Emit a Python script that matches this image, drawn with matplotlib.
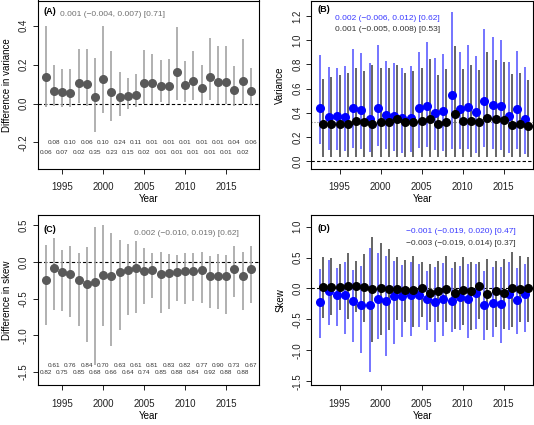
import numpy as np
import matplotlib
matplotlib.use('Agg')
import matplotlib.pyplot as plt

plt.rcParams['font.family'] = ['Liberation Sans', 'DejaVu Sans']

years = list(range(1993, 2019))

# (A) difference in variance
dvar = [0.137, 0.065, 0.060, 0.056, 0.108, 0.100, 0.036, 0.126, 0.060, 0.034, 0.038, 0.044, 0.108,
        0.106, 0.089, 0.092, 0.162, 0.094, 0.115, 0.082, 0.137, 0.113, 0.113, 0.068, 0.116, 0.065]
dvar_lo = [-0.020, -0.015, -0.017, -0.020, 0.003, -0.015, -0.145, -0.050, -0.090, -0.063, -0.030, -0.020, 0.000,
           0.000, 0.008, 0.000, 0.017, 0.008, 0.017, -0.008, 0.017, 0.000, 0.000, -0.014, 0.000, -0.008]
dvar_hi = [0.398, 0.200, 0.178, 0.178, 0.282, 0.282, 0.236, 0.400, 0.270, 0.160, 0.133, 0.150, 0.277,
           0.256, 0.222, 0.229, 0.393, 0.220, 0.270, 0.197, 0.337, 0.294, 0.296, 0.195, 0.332, 0.181]
pvar_top = ['0.08', '0.10', '0.06', '0.10', '0.24', '0.11', '0.01', '0.01', '0.01', '0.01', '0.01', '0.04', '0.06']
pvar_bot = ['0.06', '0.07', '0.02', '0.35', '0.23', '0.15', '0.02', '0.01', '0.01', '0.01', '0.01', '0.01', '0.02']
head_a = '0.001 (\u22120.004, 0.007) [0.71]'

# (B) variance, blue and black series
var_blue = [0.440, 0.366, 0.372, 0.366, 0.435, 0.420, 0.352, 0.440, 0.385, 0.374, 0.358, 0.360, 0.435,
            0.457, 0.394, 0.413, 0.550, 0.427, 0.449, 0.407, 0.495, 0.460, 0.454, 0.372, 0.430, 0.347]
var_blue_lo = [0.140, 0.090, 0.090, 0.085, 0.110, 0.100, 0.077, 0.127, 0.100, 0.080, 0.070, 0.077, 0.105,
               0.118, 0.090, 0.085, 0.100, 0.096, 0.100, 0.070, 0.118, 0.100, 0.090, 0.063, 0.096, 0.058]
var_blue_hi = [0.875, 0.779, 0.773, 0.784, 0.925, 0.897, 0.810, 0.963, 0.828, 0.810, 0.773, 0.790, 0.900,
               0.985, 0.856, 0.889, 1.233, 0.900, 0.958, 0.867, 1.095, 1.027, 1.004, 0.820, 0.911, 0.779]
var_black = [0.305, 0.305, 0.310, 0.310, 0.333, 0.320, 0.310, 0.320, 0.327, 0.344, 0.320, 0.320, 0.333,
             0.352, 0.305, 0.325, 0.388, 0.333, 0.333, 0.325, 0.358, 0.347, 0.338, 0.297, 0.310, 0.289]
var_black_lo = [0.036] * 26
var_black_hi = [0.683, 0.696, 0.710, 0.730, 0.770, 0.746, 0.793, 0.770, 0.773, 0.798, 0.730, 0.743, 0.773,
                0.848, 0.710, 0.765, 0.952, 0.765, 0.793, 0.757, 0.900, 0.839, 0.820, 0.718, 0.730, 0.669]
var_ref = 0.325
head_b_blue = '0.002 (\u22120.006, 0.012) [0.62]'
head_b_black = '0.001 (\u22120.005, 0.008) [0.53]'

# (C) difference in skew
dskew = [-0.241, -0.077, -0.136, -0.159, -0.241, -0.305, -0.273, -0.173, -0.191, -0.141, -0.114, -0.082, -0.123,
         -0.114, -0.168, -0.145, -0.136, -0.123, -0.127, -0.114, -0.191, -0.191, -0.191, -0.091, -0.191, -0.100]
dskew_lo = [-0.864, -0.659, -0.668, -0.750, -0.877, -1.090, -1.400, -0.877, -1.150, -0.923, -0.727, -0.691, -0.568,
            -0.491, -0.691, -0.636, -0.536, -0.568, -0.536, -0.555, -0.623, -0.645, -0.705, -0.477, -0.659, -0.555]
dskew_hi = [0.227, 0.327, 0.168, 0.214, 0.127, 0.205, 0.477, 0.509, 0.395, 0.295, 0.250, 0.282, 0.195,
            0.127, 0.136, 0.114, 0.100, 0.127, 0.127, 0.136, 0.082, 0.114, 0.100, 0.218, 0.136, 0.214]
pskew_top = ['0.61', '0.76', '0.84', '0.70', '0.63', '0.61', '0.81', '0.83', '0.82', '0.77', '0.90', '0.73', '0.67']
pskew_bot = ['0.82', '0.75', '0.85', '0.68', '0.66', '0.64', '0.74', '0.85', '0.88', '0.84', '0.92', '0.88', '0.88']
head_c = '0.002 (\u22120.010, 0.019) [0.62]'

# (D) skew, blue and black series
skew_blue = [-0.220, -0.048, -0.113, -0.113, -0.210, -0.274, -0.274, -0.167, -0.204, -0.129, -0.129, -0.113, -0.102,
             -0.177, -0.220, -0.167, -0.204, -0.140, -0.177, -0.075, -0.274, -0.231, -0.258, -0.086, -0.194, -0.097]
skew_blue_lo = [-0.800, -0.597, -0.613, -0.742, -0.866, -1.038, -1.350, -0.812, -1.097, -0.892, -0.785, -0.769, -0.624,
                -0.677, -0.866, -0.774, -0.704, -0.677, -0.800, -0.661, -0.839, -0.785, -0.882, -0.677, -0.731, -0.704]
skew_blue_hi = [0.317, 0.468, 0.328, 0.435, 0.306, 0.371, 0.656, 0.570, 0.532, 0.440, 0.387, 0.425, 0.398,
                0.290, 0.344, 0.414, 0.328, 0.360, 0.398, 0.398, 0.280, 0.344, 0.355, 0.425, 0.328, 0.398]
skew_black = [0.016, 0.032, 0.027, 0.043, 0.038, 0.027, -0.016, 0.000, -0.005, -0.005, -0.022, -0.032, 0.011,
              -0.070, -0.048, -0.016, -0.070, -0.022, -0.048, 0.038, -0.086, -0.048, -0.075, 0.005, -0.005, 0.005]
skew_black_lo = [-0.478, -0.425, -0.355, -0.489, -0.382, -0.543, -0.866, -0.758, -0.677, -0.516, -0.543, -0.624, -0.462,
                 -0.543, -0.543, -0.543, -0.650, -0.597, -0.677, -0.489, -0.677, -0.624, -0.650, -0.624, -0.543, -0.543]
skew_black_hi = [0.505, 0.495, 0.398, 0.570, 0.452, 0.559, 0.828, 0.737, 0.640, 0.505, 0.462, 0.521, 0.425,
                 0.398, 0.452, 0.532, 0.425, 0.505, 0.425, 0.425, 0.478, 0.452, 0.478, 0.586, 0.532, 0.516]
head_d_blue = '\u22120.001 (\u22120.019, 0.020) [0.47]'
head_d_black = '\u22120.003 (\u22120.019, 0.014) [0.37]'

W, H = 534, 425
fig = plt.figure(figsize=(W / 100, H / 100), dpi=100)


def make_ax(l, t, r, b):
    return fig.add_axes([l / W, 1 - b / H, (r - l) / W, (b - t) / H])


def style(ax, ylabel, yticks, ylim, xlim):
    ax.set_xlim(xlim)
    ax.set_ylim(ylim)
    ax.set_xticks([1995, 2000, 2005, 2010, 2015])
    ax.set_yticks(yticks)
    ax.set_yticklabels(['%.1f' % v for v in yticks], rotation=90, va='center')
    ax.tick_params(length=3.6, width=0.7, labelsize=7, colors='#222222')
    ax.tick_params(axis='x', pad=6)
    ax.tick_params(axis='y', pad=3)
    for s in ax.spines.values():
        s.set_linewidth(0.8)
    ax.set_xlabel('Year', fontsize=7, labelpad=1.5)
    ax.set_ylabel(ylabel, fontsize=7)
    ax.yaxis.set_label_coords(-0.14, 0.5)
    ax.yaxis.label.set_va('center')


GRAY_PT = '#595959'
GRAY_LN = '#a3a3a3'
BLUE_PT = '#0000ff'
BLUE_LN = '#5c5cff'
BLACK_LN = '#4a4a4a'

# ---------- (A)
ax = make_ax(37.7, 0.5, 259, 169)
ax.axhline(0, color='black', ls=(0, (3, 2)), lw=0.8, zorder=1)
ax.vlines(years, dvar_lo, dvar_hi, color=GRAY_LN, lw=1.2, zorder=2)
ax.plot(years, dvar, 'o', color=GRAY_PT, ms=5.5, zorder=3)
for i, t in enumerate(pvar_top):
    ax.text(years[1 + 2 * i], -0.2, t, fontsize=4.6, ha='center', va='center', color='#333333')
for i, t in enumerate(pvar_bot):
    ax.text(years[2 * i], -0.25, t, fontsize=4.6, ha='center', va='center', color='#333333')
ax.text(0.024, 0.934, '(A)', transform=ax.transAxes, fontsize=6.5, fontweight='bold', va='center')
ax.text(0.101, 0.914, head_a, transform=ax.transAxes, fontsize=6, color='#707070', va='center')
style(ax, 'Difference in variance', [-0.2, 0.0, 0.2, 0.4], (-0.337, 0.53), (1992, 2019))

# ---------- (B)
ax = make_ax(311.3, 0.5, 533, 169)
xb = np.array(years) - 0.35
ax.axhline(0, color='black', ls=(0, (3, 2)), lw=0.8, zorder=1)
ax.axhline(var_ref, color='#888888', ls=':', lw=0.8, zorder=1)
ax.vlines(xb, var_blue_lo, var_blue_hi, color=BLUE_LN, lw=1.2, zorder=2)
ax.vlines(years, var_black_lo, var_black_hi, color=BLACK_LN, lw=1.2, zorder=2)
ax.plot(xb, var_blue, 'o', color=BLUE_PT, ms=5.5, zorder=3)
ax.plot(years, var_black, 'o', color='black', ms=5.5, zorder=4)
ax.text(0.026, 0.944, '(B)', transform=ax.transAxes, fontsize=6.5, fontweight='bold', va='center')
ax.text(0.108, 0.894, head_b_blue, transform=ax.transAxes, fontsize=6, color='#3a3aff', va='center')
ax.text(0.108, 0.825, head_b_black, transform=ax.transAxes, fontsize=6, color='#333333', va='center')
style(ax, 'Variance', [0.0, 0.2, 0.4, 0.6, 0.8, 1.0, 1.2], (-0.066, 1.329), (1991.54, 2018.57))

# ---------- (C)
ax = make_ax(37.7, 215.3, 259, 385.3)
ax.axhline(0, color='black', ls=(0, (3, 2)), lw=0.8, zorder=1)
ax.vlines(years, dskew_lo, dskew_hi, color=GRAY_LN, lw=1.2, zorder=2)
ax.plot(years, dskew, 'o', color=GRAY_PT, ms=5.5, zorder=3)
for i, t in enumerate(pskew_top):
    ax.text(years[1 + 2 * i], -1.41, t, fontsize=4.6, ha='center', va='center', color='#333333')
for i, t in enumerate(pskew_bot):
    ax.text(years[2 * i], -1.51, t, fontsize=4.6, ha='center', va='center', color='#333333')
ax.text(0.024, 0.914, '(C)', transform=ax.transAxes, fontsize=6.5, fontweight='bold', va='center')
ax.text(0.435, 0.892, head_c, transform=ax.transAxes, fontsize=6, color='#707070', va='center')
style(ax, 'Difference in skew', [-1.5, -1.0, -0.5, 0.0, 0.5], (-1.682, 0.636), (1992, 2019))

# ---------- (D)
ax = make_ax(311.3, 215.3, 533, 385.3)
ax.axhline(0, color='black', ls=(0, (3, 2)), lw=0.8, zorder=1)
ax.vlines(xb, skew_blue_lo, skew_blue_hi, color=BLUE_LN, lw=1.2, zorder=2)
ax.vlines(years, skew_black_lo, skew_black_hi, color=BLACK_LN, lw=1.2, zorder=2)
ax.plot(xb, skew_blue, 'o', color=BLUE_PT, ms=5.5, zorder=3)
ax.plot(years, skew_black, 'o', color='black', ms=5.5, zorder=4)
ax.text(0.026, 0.921, '(D)', transform=ax.transAxes, fontsize=6.5, fontweight='bold', va='center')
ax.text(0.427, 0.902, head_d_blue, transform=ax.transAxes, fontsize=6, color='#3a3aff', va='center')
ax.text(0.427, 0.833, head_d_black, transform=ax.transAxes, fontsize=6, color='#333333', va='center')
style(ax, 'Skew', [-1.5, -1.0, -0.5, 0.0, 0.5, 1.0], (-1.565, 1.183), (1991.54, 2018.57))

fig.savefig('out.png', dpi=100)
